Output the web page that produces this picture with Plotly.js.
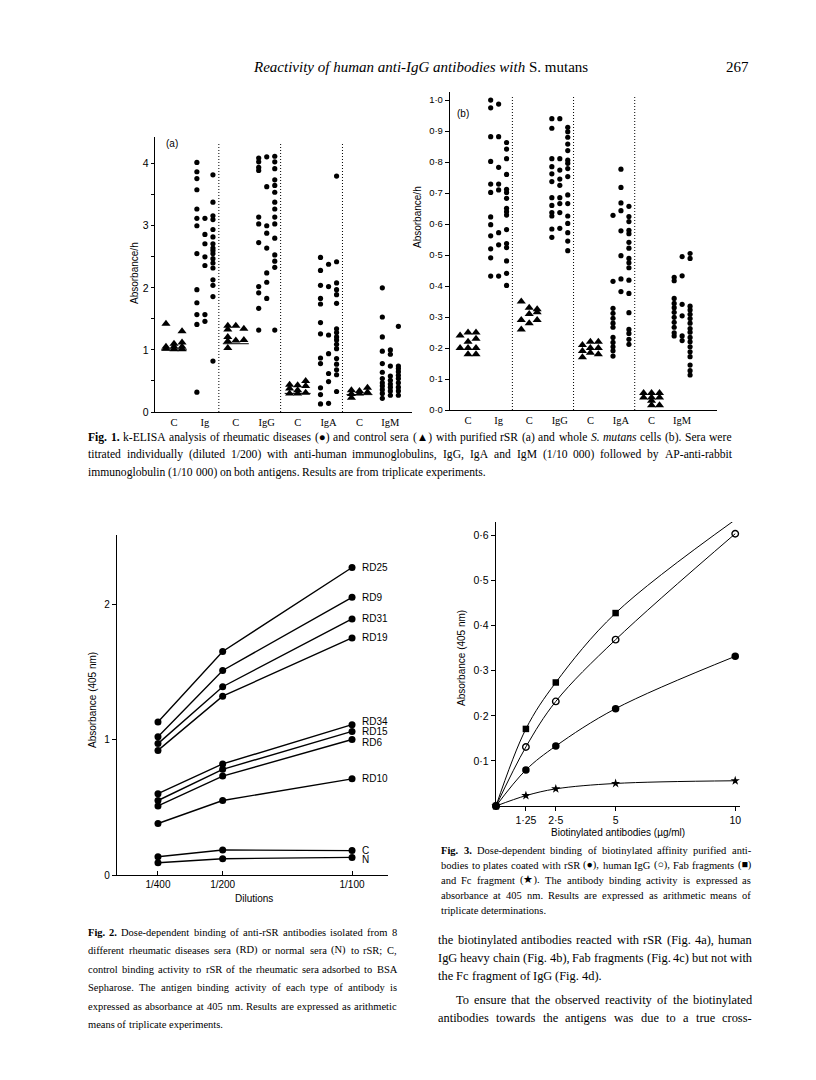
<!DOCTYPE html>
<html><head><meta charset="utf-8">
<script src="https://cdn.plot.ly/plotly-3.0.1.min.js"></script>
<style>html,body{margin:0;padding:0;background:#fff}#chart{width:816px;height:1080px}</style>
</head><body><div id="chart"></div>
<script>
// ---------------- Fig. 1 data ----------------
const fig1Categories = ['C','Ig','C','IgG','C','IgA','C','IgM'];
// (a) purified rSR : columns of points per category
const a_C_Ig  = [[1.42,1.05,1.02],[1.10,1.05,1.01],[1.30,1.12,1.05,1.01]];
const a_Ig    = [[4.02,3.87,3.76,3.58,3.27,3.12,3.00,2.55,1.97,1.76,1.57,1.41,0.32],[3.12,2.86,2.71,2.50,2.36,1.57,1.46],[3.82,3.38,3.16,3.10,2.94,2.82,2.71,2.64,2.60,2.55,2.47,2.40,2.32,2.13,2.04,1.86,0.82]];
const a_C_IgG = [[1.39,1.33,1.21,1.14,1.03],[1.39,1.15],[1.34,1.16]];
const a_IgG   = [[4.09,4.03,3.94,3.89,3.14,3.03,2.73,2.02,1.92,1.67,1.32],[4.11,3.63,3.00,2.88,2.64,2.24,2.09,1.83],[4.12,4.03,3.92,3.74,3.65,3.54,3.38,3.27,3.14,3.03,2.80,2.53,2.43,2.33,1.32]];
const a_C_IgA = [[0.44,0.38,0.30],[0.43,0.35,0.30],[0.50,0.42,0.31]];
const a_IgA   = [[2.49,2.28,2.04,1.83,1.74,1.44,1.26,0.87,0.78,0.39,0.28,0.13],[2.38,2.02,1.24,0.94,0.62,0.49,0.14],[3.80,2.42,2.08,1.97,1.89,1.75,1.34,1.28,1.21,1.16,1.09,1.02,0.86,0.77,0.68,0.60,0.33]];
const a_C_IgM = [[0.35,0.29,0.23],[0.34,0.30],[0.39,0.32]];
const a_IgM   = [[2.00,1.53,1.21,0.98,0.78,0.64,0.54,0.47,0.42,0.36,0.30,0.22],[1.00,0.93,0.74,0.58,0.51,0.45,0.40,0.34,0.27],[1.38,0.74,0.70,0.65,0.59,0.54,0.47,0.40,0.34,0.27]];
const a_controlLevels = [1.0, 1.1, 0.3, 0.28];
// (b) whole S. mutans cells
const b_C_Ig  = [[0.24,0.20],[0.25,0.22,0.20,0.18],[0.25,0.23,0.20,0.18]];
const b_Ig    = [[1.00,0.975,0.882,0.802,0.729,0.702,0.623,0.598,0.562,0.52,0.491,0.432],[0.987,0.882,0.783,0.729,0.71,0.572,0.533,0.432],[0.863,0.842,0.811,0.76,0.712,0.702,0.683,0.651,0.64,0.629,0.582,0.537,0.524,0.481,0.441,0.402]];
const b_C_IgG = [[0.35,0.29,0.26],[0.33,0.31,0.28],[0.325,0.315,0.29]];
const b_IgG   = [[0.94,0.909,0.811,0.785,0.762,0.737,0.685,0.66,0.637,0.626,0.584,0.557],[0.94,0.811,0.774,0.745,0.725,0.685,0.666,0.637,0.586],[0.912,0.898,0.88,0.858,0.837,0.806,0.796,0.779,0.753,0.694,0.666,0.626,0.602,0.572,0.545,0.514]];
const b_C_IgA = [[0.21,0.19,0.17],[0.22,0.20,0.185],[0.22,0.20,0.18]];
const b_IgA   = [[0.628,0.415,0.328,0.312,0.296,0.28,0.267,0.234,0.218,0.204,0.191,0.174],[0.777,0.718,0.668,0.643,0.578,0.498,0.423,0.382],[0.657,0.624,0.608,0.58,0.569,0.541,0.522,0.489,0.475,0.459,0.419,0.376,0.314,0.26,0.247,0.228,0.212]];
const b_C_IgM = [[0.055,0.04],[0.055,0.04,0.03,0.015],[0.055,0.04,0.015]];
const b_IgM   = [[0.428,0.417,0.36,0.344,0.33,0.315,0.299,0.283,0.267,0.249,0.239],[0.495,0.433,0.341,0.304,0.239,0.224],[0.505,0.489,0.335,0.323,0.309,0.295,0.28,0.263,0.251,0.234,0.22,0.204,0.188,0.172,0.145,0.127,0.113]];
const fig1aTickVals = [0,0.5,1,1.5,2,2.5,3,3.5,4];
const fig1aTickText = ['0','','1','','2','','3','','4'];
const fig1bTickVals = [0,0.1,0.2,0.3,0.4,0.5,0.6,0.7,0.8,0.9,1.0];
const fig1bTickText = ['0·0','0·1','0·2','0·3','0·4','0·5','0·6','0·7','0·8','0·9','1·0'];

// ---------------- Fig. 2 data ----------------
const dilutions = ['1/400','1/200','1/100'];
const fig2Names = ['RD25','RD9','RD31','RD19','RD34','RD15','RD6','RD10','C','N'];
const RD25 = [1.13,1.65,2.27];
const RD9  = [1.02,1.51,2.05];
const RD31 = [0.97,1.39,1.89];
const RD19 = [0.92,1.32,1.75];
const RD34 = [0.60,0.82,1.11];
const RD15 = [0.55,0.78,1.06];
const RD6  = [0.51,0.73,1.00];
const RD10 = [0.38,0.55,0.71];
const ctrlC = [0.135,0.185,0.18];
const normN = [0.09,0.12,0.13];
const fig2TickVals = [0,1,2];
const fig2TickText = ['0','1','2'];

// ---------------- Fig. 3 data ----------------
const concentrations = [0,1.25,2.5,5,10];
const concLabels = ['1·25','2·5','5','10'];
const rSR      = [0,0.080,0.133,0.216,0.332];
const humanIgG = [0,0.131,0.232,0.369,0.604];
const fabFrag  = [0,0.171,0.274,0.428,0.635];
const fcFrag   = [0,0.023,0.038,0.050,0.056];
const fig3TickVals = [0.1,0.2,0.3,0.4,0.5,0.6];
const fig3TickText = ['0·1','0·2','0·3','0·4','0·5','0·6'];

// ---------------- helpers ----------------
const W=816, H=1080;
const px = v => v/W, py = v => 1 - v/H;
const INK = '#000';
const SANS = 'Liberation Sans, Arial, sans-serif';
const SERIF = 'Liberation Serif, Times New Roman, serif';
const COL_STEP = 0.26;

function columnTrace(groups, cats, xa, ya, symbol, size){
  const xs=[], ys=[];
  groups.forEach((cols,g)=>{
    cols.forEach((vals,c)=>{
      const off=(c-(cols.length-1)/2)*COL_STEP;
      vals.forEach(v=>{xs.push(cats[g]+off); ys.push(v);});
    });
  });
  return {type:'scatter',mode:'markers',x:xs,y:ys,xaxis:xa,yaxis:ya,
    marker:{symbol:symbol,size:size,color:INK,line:{width:0}},hoverinfo:'skip',showlegend:false,cliponaxis:false};
}

const traces=[];
// Fig 1a
traces.push(columnTrace([a_C_Ig,a_C_IgG,a_C_IgA,a_C_IgM],[0,2,4,6],'x','y','triangle-up',8));
traces.push(columnTrace([a_Ig,a_IgG,a_IgA,a_IgM],[1,3,5,7],'x','y','circle',5.2));
(function(){
  const xs=[],ys=[];
  [0,2,4,6].forEach((c,i)=>{xs.push(c-0.42,c+0.42,null);ys.push(a_controlLevels[i],a_controlLevels[i],null);});
  traces.push({type:'scatter',mode:'lines',x:xs,y:ys,xaxis:'x',yaxis:'y',line:{color:INK,width:1},hoverinfo:'skip',showlegend:false});
})();
// Fig 1b
traces.push(columnTrace([b_C_Ig,b_C_IgG,b_C_IgA,b_C_IgM],[0,2,4,6],'x2','y2','triangle-up',8));
traces.push(columnTrace([b_Ig,b_IgG,b_IgA,b_IgM],[1,3,5,7],'x2','y2','circle',5.2));

// Fig 2
const dilX = dilutions.map(d=>100/Number(d.split('/')[1]));
const fig2Series = [RD25,RD9,RD31,RD19,RD34,RD15,RD6,RD10,ctrlC,normN];
fig2Series.forEach((s,i)=>{
  traces.push({type:'scatter',mode:'lines+markers',x:dilX,y:s,xaxis:'x3',yaxis:'y3',name:fig2Names[i],
    line:{color:INK,width:1.4},marker:{symbol:'circle',size:7,color:INK},hoverinfo:'skip',showlegend:false,cliponaxis:false});
});

// Fig 3
const f3 = [
  {y:fabFrag, sym:'square', size:6.5, lw:0, name:'Fab fragments'},
  {y:humanIgG, sym:'circle-open', size:6.5, lw:1.4, name:'human IgG'},
  {y:rSR, sym:'circle', size:7.5, lw:0, name:'rSR'},
  {y:fcFrag, sym:'star', size:7, lw:0, name:'Fc fragment'}
];
f3.forEach(s=>{
  traces.push({type:'scatter',mode:'lines+markers',x:concentrations,y:s.y,xaxis:'x4',yaxis:'y4',name:s.name,
    line:{color:INK,width:1,shape:'spline',smoothing:1},
    marker:{symbol:s.sym,size:s.size,color:INK,opacity:1,line:{color:INK,width:s.lw}},
    hoverinfo:'skip',showlegend:false,cliponaxis:false});
});

// ---------------- axes ----------------
const baseAxis = {showline:true,linecolor:INK,linewidth:1.2,showgrid:false,zeroline:false,
  tickfont:{family:SANS,size:10,color:INK},tickcolor:INK,fixedrange:true};
const layout = {
  width:W,height:H,margin:{l:0,r:0,t:0,b:0},paper_bgcolor:'#fff',plot_bgcolor:'rgba(0,0,0,0)',showlegend:false,
  xaxis: Object.assign({},baseAxis,{domain:[px(155),px(412)],range:[-0.615,7.7],anchor:'y',
    tickmode:'array',tickvals:[0,1,2,3,4,5,6,7],ticktext:fig1Categories,ticks:'',tickfont:{family:SERIF,size:10.5,color:INK}}),
  yaxis: Object.assign({},baseAxis,{domain:[py(412),py(137)],range:[0,4.43],anchor:'x',
    tickmode:'array',tickvals:fig1aTickVals,ticktext:fig1aTickText,ticks:'outside',ticklen:3,tickfont:{family:SANS,size:10.5,color:INK}}),
  xaxis2: Object.assign({},baseAxis,{domain:[px(450),px(717)],range:[-0.59,8.14],anchor:'y2',
    tickmode:'array',tickvals:[0,1,2,3,4,5,6,7],ticktext:fig1Categories,ticks:'',tickfont:{family:SERIF,size:10.5,color:INK}}),
  yaxis2: Object.assign({},baseAxis,{domain:[py(410),py(92)],range:[0,1.026],anchor:'x2',
    tickmode:'array',tickvals:fig1bTickVals,ticktext:fig1bTickText,ticks:'outside',ticklen:4,tickfont:{family:SANS,size:9.5,color:INK}}),
  xaxis3: Object.assign({},baseAxis,{domain:[px(117),px(388)],range:[0.0916,1.139],anchor:'y3',
    tickmode:'array',tickvals:dilX,ticktext:dilutions,ticks:'inside',ticklen:4,tickfont:{family:SANS,size:10,color:INK}}),
  yaxis3: Object.assign({},baseAxis,{domain:[py(875),py(535)],range:[0,2.51],anchor:'x3',
    tickmode:'array',tickvals:fig2TickVals,ticktext:fig2TickText,ticks:'outside',ticklen:4,tickfont:{family:SANS,size:10,color:INK}}),
  xaxis4: Object.assign({},baseAxis,{domain:[px(496),px(740)],range:[0,10.2],anchor:'y4',
    tickmode:'array',tickvals:concentrations.slice(1),ticktext:concLabels,ticks:'outside',ticklen:4,tickfont:{family:SANS,size:10.5,color:INK}}),
  yaxis4: Object.assign({},baseAxis,{domain:[py(806),py(522)],range:[0,0.63],anchor:'x4',
    tickmode:'array',tickvals:fig3TickVals,ticktext:fig3TickText,ticks:'outside',ticklen:4,tickfont:{family:SANS,size:10.5,color:INK}}),
  shapes:[],annotations:[]
};
[1.45,3.45,5.45].forEach(v=>{
  layout.shapes.push({type:'line',xref:'x',yref:'y domain',x0:v,x1:v,y0:0,y1:0.98,line:{color:INK,width:1,dash:'1px,2px'}});
  layout.shapes.push({type:'line',xref:'x2',yref:'y2 domain',x0:v,x1:v,y0:0,y1:0.99,line:{color:INK,width:1,dash:'1px,2px'}});
});

const ann = layout.annotations;
function txt(text,x,y,opt){
  ann.push(Object.assign({text:text,x:px(x),y:py(y),xref:'paper',yref:'paper',showarrow:false,
    xanchor:'center',yanchor:'middle',font:{family:SANS,size:10,color:INK}},opt||{}));
}
txt('Absorbance/h',134,273,{textangle:-90});
txt('Absorbance/h',417,217,{textangle:-90});
txt('(a)',172,143);
txt('(b)',463,113);
txt('Absorbance (405 nm)',92,700,{textangle:-90});
txt('Dilutions',254,898);
txt('Absorbance (405 nm)',461,658,{textangle:-90});
txt('Biotinylated antibodies (µg/ml)',618,832);
const labelShift = {RD34:3,RD6:-3,N:-2};
fig2Series.forEach((s,i)=>{
  ann.push({text:fig2Names[i],x:dilX[2],y:s[2],xref:'x3',yref:'y3',showarrow:false,xanchor:'left',yanchor:'middle',
    xshift:8,yshift:labelShift[fig2Names[i]]||0,font:{family:SANS,size:10,color:INK}});
});
txt('<i>Reactivity of human anti-IgG antibodies with</i> S. mutans',251,67,{xanchor:'left',font:{family:SERIF,size:15,color:INK}});
txt('267',724,67,{xanchor:'left',font:{family:SERIF,size:15,color:INK}});

// ---------------- justified caption text ----------------
const cv=document.createElement('canvas').getContext('2d');
function measure(t,size,st){cv.font=(st.indexOf('i')>=0?'italic ':'')+(st.indexOf('b')>=0?'bold ':'')+size+'px "Liberation Serif"';return cv.measureText(t).width;}
function wrap(t,st){if(st.indexOf('b')>=0)t='<b>'+t+'</b>';if(st.indexOf('i')>=0)t='<i>'+t+'</i>';return t;}
function line(segs,x0,x1,y,size,justify){
  const words=[];
  segs.forEach(sg=>{sg[0].split(' ').forEach(p=>{if(p!=='')words.push({t:p,st:sg[1]});});});
  const ws=words.map(w=>measure(w.t,size,w.st));
  const tot=ws.reduce((a,b)=>a+b,0);
  const sp = justify && words.length>1 ? (x1-x0-tot)/(words.length-1) : measure(' ',size,'');
  let x=x0;
  words.forEach((w,k)=>{
    ann.push({text:wrap(w.t,w.st),x:px(x),y:py(y),xref:'paper',yref:'paper',showarrow:false,xanchor:'left',yanchor:'middle',
      borderpad:0,font:{family:SERIF,size:size,color:INK}});
    x+=ws[k]+sp;
  });
}
const cap1 = [
  [[['Fig. 1.','b'],[' k-ELISA analysis of rheumatic diseases (●) and control sera (▲) with purified rSR (a) and whole ',''],['S. mutans','i'],[' cells (b). Sera were','']],true],
  [[['titrated individually (diluted 1/200) with anti-human immunoglobulins, IgG, IgA and IgM (1/10 000) followed by AP-anti-rabbit','']],true],
  [[['immunoglobulin (1/10 000) on both antigens. Results are from triplicate experiments.','']],false]
];
cap1.forEach((l,i)=>line(l[0],87,731,437+i*17.5,11.6,l[1]));
const cap2 = [
  [[['Fig. 2.','b'],[' Dose-dependent binding of anti-rSR antibodies isolated from 8','']],true],
  [[['different rheumatic diseases sera (RD) or normal sera (N) to rSR; C,','']],true],
  [[['control binding activity to rSR of the rheumatic sera adsorbed to BSA','']],true],
  [[['Sepharose. The antigen binding activity of each type of antibody is','']],true],
  [[['expressed as absorbance at 405 nm. Results are expressed as arithmetic','']],true],
  [[['means of triplicate experiments.','']],false]
];
cap2.forEach((l,i)=>line(l[0],87,396,932+i*18.5,10.5,l[1]));
const cap3 = [
  [[['Fig. 3.','b'],[' Dose-dependent binding of biotinylated affinity purified anti-','']],true],
  [[['bodies to plates coated with rSR (●), human IgG (○), Fab fragments (■)','']],true],
  [[['and Fc fragment (★). The antibody binding activity is expressed as','']],true],
  [[['absorbance at 405 nm. Results are expressed as arithmetic means of','']],true],
  [[['triplicate determinations.','']],false]
];
cap3.forEach((l,i)=>line(l[0],440,750,850+i*15,10.5,l[1]));
const body = [
  [[['the biotinylated antibodies reacted with rSR (Fig. 4a), human','']],true,437],
  [[['IgG heavy chain (Fig. 4b), Fab fragments (Fig. 4c) but not with','']],true,437],
  [[['the Fc fragment of IgG (Fig. 4d).','']],false,437],
  [[['To ensure that the observed reactivity of the biotinylated','']],true,455],
  [[['antibodies towards the antigens was due to a true cross-','']],true,437]
];
const bodyY=[940,958,976,1000,1018];
body.forEach((l,i)=>line(l[0],l[2],751,bodyY[i],12.4,l[1]));

Plotly.newPlot('chart',traces,layout,{staticPlot:true,displayModeBar:false});
</script></body></html>
